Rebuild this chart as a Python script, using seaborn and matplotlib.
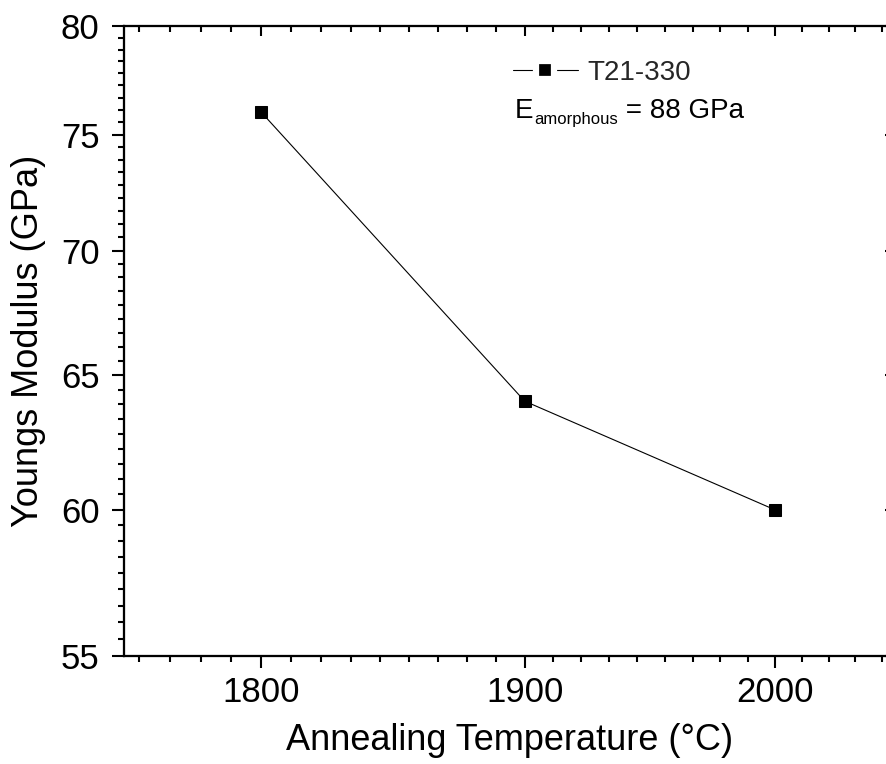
import matplotlib
matplotlib.use("Agg")
import matplotlib.pyplot as plt
import matplotlib.ticker as mticker
import seaborn as sns
import pandas as pd

# ---- data ----
temps = [1800, 1900, 2000]
modulus = [76, 64, 60]
series_label = "T21-330"
x_ticks = [1800, 1900, 2000]
y_ticks = [55, 60, 65, 70, 75, 80]
x_label = "Annealing Temperature (°C)"
y_label = "Youngs Modulus (GPa)"

sns.set_theme(style="ticks")
plt.rcParams["font.family"] = ["Liberation Sans", "DejaVu Sans"]
plt.rcParams["axes.edgecolor"] = "black"

df = pd.DataFrame({"temp": temps, "E": modulus})

W, H = 887, 764
fig = plt.figure(figsize=(W / 100, H / 100), dpi=100)
fig.patch.set_facecolor("white")
ax = fig.add_axes([124 / W, (H - 656) / H, (895 - 124) / W, (656 - 26) / H])

sns.lineplot(data=df, x="temp", y="E", ax=ax, color="black", marker="s",
             markersize=8, markeredgecolor="black", linewidth=0.8,
             label=series_label)

xlim = (1750, 2050)
ylim = (55, 80)
ax.set_xscale("log")
ax.set_yscale("log")
ax.set_xlim(*xlim)
ax.set_ylim(*ylim)

fmt = mticker.FuncFormatter(lambda v, p: f"{v:g}")


def setup_axis(axis, ticks, minor_step):
    axis.set_major_locator(mticker.FixedLocator(ticks))
    axis.set_major_formatter(fmt)
    axis.set_minor_locator(mticker.MultipleLocator(minor_step))
    axis.set_minor_formatter(mticker.NullFormatter())


setup_axis(ax.xaxis, x_ticks, 100 / 9)
setup_axis(ax.yaxis, y_ticks, 5 / 9)

ax.tick_params(which="major", direction="out", length=8.5, width=1.5,
               labelsize=25, color="black", labelcolor="black")
ax.tick_params(axis="x", which="major", pad=6)
ax.tick_params(axis="y", which="major", pad=9)
ax.tick_params(which="minor", direction="out", length=4.5, width=1.5,
               color="black")
for s in ax.spines.values():
    s.set_linewidth(1.5)
    s.set_color("black")

ax.set_xlabel(x_label, fontsize=26, labelpad=10, color="black")
ax.set_ylabel(y_label, fontsize=26, labelpad=11, color="black")

# top axis (ticks inward)
axt = ax.twiny()
axt.set_xscale("log")
axt.set_xlim(*xlim)
setup_axis(axt.xaxis, x_ticks, 100 / 9)
axt.tick_params(which="major", direction="in", length=7.5, width=1.5,
                labeltop=False, color="black")
axt.tick_params(which="minor", direction="in", length=4, width=1.5,
                color="black")

# right axis (major ticks inward)
axr = ax.twinx()
axr.set_yscale("log")
axr.set_ylim(*ylim)
axr.yaxis.set_major_locator(mticker.FixedLocator(y_ticks))
axr.yaxis.set_minor_locator(mticker.NullLocator())
axr.tick_params(which="major", direction="in", length=7.5, width=1.5,
                labelright=False, color="black")
for a in (axt, axr):
    for s in a.spines.values():
        s.set_linewidth(1.5)
        s.set_color("black")

# legend
handles, labels = ax.get_legend_handles_labels()
leg = ax.legend(handles, labels, loc="center left",
                bbox_to_anchor=(513 / W, 1 - 73 / H),
                bbox_transform=fig.transFigure,
                frameon=False, fontsize=20, handlelength=2.34,
                handletextpad=0.32, borderpad=0, borderaxespad=0, numpoints=1)
for lh in leg.legend_handles:
    lh.set_markeredgecolor("white")
    lh.set_markeredgewidth(4.5)
    lh.set_markersize(12.5)

# E_amorphous annotation
t1 = fig.text(515 / W, 1 - 118 / H, "E", fontsize=20, va="baseline",
              color="black")
t2 = ax.annotate("amorphous", xy=(1.05, 0), xycoords=t1, fontsize=12,
                 va="baseline", ha="left", color="black")
t3 = ax.annotate(" = 88 GPa", xy=(1, 0), xycoords=(t2, t1), fontsize=20,
                 va="bottom", ha="left", color="black")

fig.savefig("out.png", dpi=100, facecolor="white")
